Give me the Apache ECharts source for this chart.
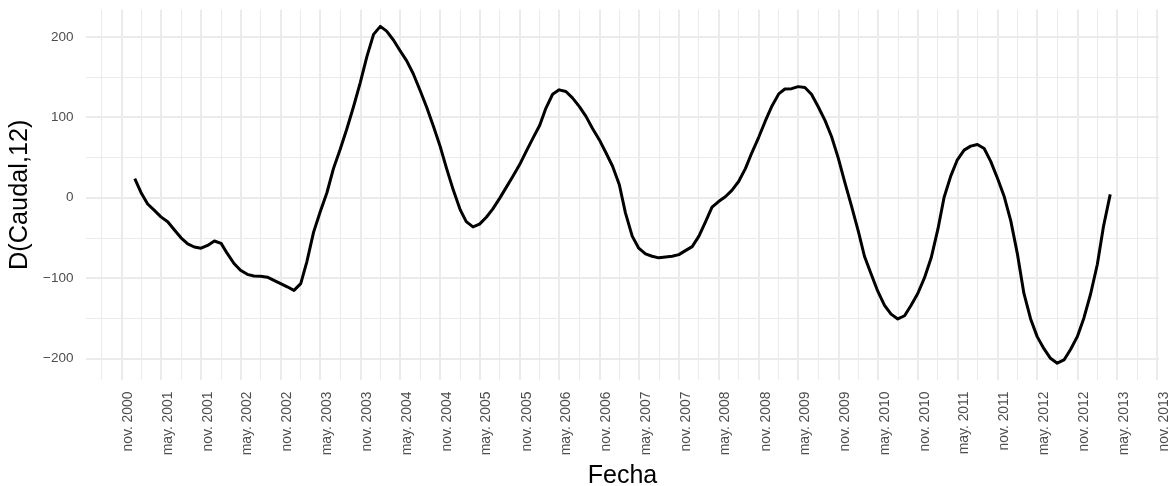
<!DOCTYPE html>
<html><head><meta charset="utf-8">
<script src="https://cdn.jsdelivr.net/npm/echarts@6/dist/echarts.min.js"></script>
<style>html,body{margin:0;padding:0;background:#fff}#c{width:1175px;height:486px}</style>
</head><body><div id="c"></div>
<script>
// First observation: January 2001, monthly observations
const startYear = 2001, startMonth = 1;
const values = [
  23.5, 5, -8, -16, -24, -30, -40, -50, -57.5, -61.5, -63, -59.5,          // 2001
  -54, -57, -69.5, -82, -90.5, -95.5, -97.5, -98, -99, -103, -107, -111,   // 2002
  -115.5, -107, -80, -43, -18, 6, 36, 60, 86, 113, 143, 175,               // 2003
  203, 213, 207, 196, 183, 170, 154, 133.5, 112, 89, 64, 36,               // 2004
  9, -15, -30, -36.5, -33, -24.5, -14, -1, 13, 26.5, 41, 57.5,             // 2005
  74, 90, 111, 128.5, 134, 132, 124, 113.5, 101, 86, 72, 56,               // 2006
  39, 16, -19, -48, -63, -70, -73, -75, -74, -73, -71, -66,                // 2007
  -61, -48, -31, -12, -5, 1, 9, 20, 36, 56, 75, 95,                        // 2008
  114, 129, 135, 135.5, 138, 137, 128.5, 113, 96, 76, 49, 19,              // 2009
  -11, -42, -73, -95.5, -116.5, -134, -145, -151, -147, -134, -119, -100,  // 2010
  -75, -39, 0, 27, 47, 59, 64, 66, 61, 45, 24, 2,                          // 2011
  -29, -71, -119, -151, -173, -188, -200, -206, -202, -189, -173, -150,    // 2012
  -120, -83, -36, 4                                                        // 2013
];
const xTickDates = ['2000-11-01','2001-05-01','2001-11-01','2002-05-01','2002-11-01','2003-05-01','2003-11-01',
  '2004-05-01','2004-11-01','2005-05-01','2005-11-01','2006-05-01','2006-11-01','2007-05-01','2007-11-01',
  '2008-05-01','2008-11-01','2009-05-01','2009-11-01','2010-05-01','2010-11-01','2011-05-01','2011-11-01',
  '2012-05-01','2012-11-01','2013-05-01','2013-11-01'];
const xTickLabels = ['nov. 2000','may. 2001','nov. 2001','may. 2002','nov. 2002','may. 2003','nov. 2003',
  'may. 2004','nov. 2004','may. 2005','nov. 2005','may. 2006','nov. 2006','may. 2007','nov. 2007',
  'may. 2008','nov. 2008','may. 2009','nov. 2009','may. 2010','nov. 2010','may. 2011','nov. 2011',
  'may. 2012','nov. 2012','may. 2013','nov. 2013'];
const yTicks = [-200, -100, 0, 100, 200];
const yMinorTicks = [-150, -50, 50, 150];

const DAY = 86400000;
function utc(s){ const p = s.split('-').map(Number); return Date.UTC(p[0], p[1]-1, p[2]) / DAY; }
// x positions in days since epoch
const data = values.map((v, i) => [Date.UTC(startYear, startMonth - 1 + i, 1) / DAY, v]);
const xTickTimes = xTickDates.map(utc);
// minor breaks: midpoints between major breaks (plus one before the first)
const xMinorTimes = [];
xMinorTimes.push(xTickTimes[0] - (xTickTimes[1] - xTickTimes[0]) / 2 - 1.5);
for (let i = 0; i < xTickTimes.length - 1; i++) xMinorTimes.push((xTickTimes[i] + xTickTimes[i+1]) / 2);

const t0 = data[0][0], t1 = data[data.length-1][0];
const xMin = t0 - 0.05 * (t1 - t0), xMax = t1 + 0.05 * (t1 - t0);
const vMin = Math.min(...values), vMax = Math.max(...values);
const yMin = vMin - 0.05 * (vMax - vMin), yMax = vMax + 0.05 * (vMax - vMin);

const FONT = 'Liberation Sans, Arial, sans-serif';
const GRID = '#EBEBEB';
function xFmt(v){
  let best = -1, bd = Infinity;
  xTickTimes.forEach((t, i) => { const d = Math.abs(t - v); if (d < bd) { bd = d; best = i; } });
  return bd < 1 ? xTickLabels[best] : '';
}
function yFmt(v){ return v < 0 ? '\u2212' + Math.abs(v) : String(v); }

const chart = echarts.init(document.getElementById('c'), null, {renderer: 'canvas'});
chart.setOption({
  animation: false,
  backgroundColor: '#ffffff',
  grid: {left: 86, right: 16, top: 9.5, bottom: 106, containLabel: false, outerBoundsMode: 'none'},
  xAxis: [{
    type: 'value', min: xMin, max: xMax,
    axisLine: {show: false},
    axisTick: {show: false, customValues: xTickTimes},
    axisLabel: {customValues: xTickTimes, formatter: xFmt, rotate: 90, verticalAlign: 'top',
      margin: 11.5, fontSize: 13.9, color: '#4D4D4D', fontFamily: FONT, hideOverlap: false,
      showMinLabel: true, showMaxLabel: true},
    splitLine: {show: true, lineStyle: {color: GRID, width: 2}},
    name: 'Fecha', nameLocation: 'middle', nameGap: 77,
    nameTextStyle: {fontSize: 25, color: '#000', fontFamily: FONT}
  }, {
    type: 'value', min: xMin, max: xMax, position: 'bottom',
    axisLine: {show: false},
    axisTick: {show: false, customValues: xMinorTimes},
    axisLabel: {show: false},
    splitLine: {show: true, lineStyle: {color: GRID, width: 1}}
  }],
  yAxis: [{
    type: 'value', min: yMin, max: yMax,
    axisLine: {show: false},
    axisTick: {show: false, customValues: yTicks},
    axisLabel: {customValues: yTicks, formatter: yFmt, margin: 12.6, fontSize: 13.5,
      color: '#4D4D4D', fontFamily: FONT},
    splitLine: {show: true, lineStyle: {color: GRID, width: 2}},
    name: 'D(Caudal,12)', nameLocation: 'middle', nameGap: 44,
    nameTextStyle: {fontSize: 25.3, color: '#000', fontFamily: FONT}
  }, {
    type: 'value', min: yMin, max: yMax, position: 'left',
    axisLine: {show: false},
    axisTick: {show: false, customValues: yMinorTicks},
    axisLabel: {show: false},
    splitLine: {show: true, lineStyle: {color: GRID, width: 1}}
  }],
  series: [{
    type: 'line', data: data, xAxisIndex: 0, yAxisIndex: 0,
    showSymbol: false, symbol: 'none', smooth: false,
    lineStyle: {color: '#000000', width: 3, join: 'round', cap: 'butt'},
    silent: true, z: 10
  }]
});
</script>
</body></html>
